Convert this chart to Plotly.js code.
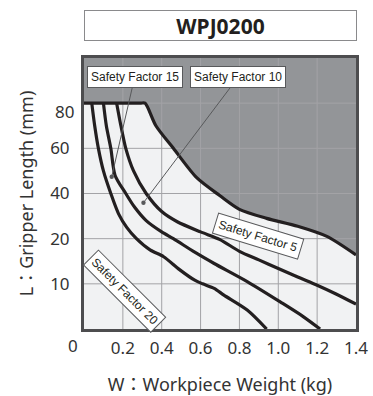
<!DOCTYPE html>
<html><head><meta charset="utf-8">
<script src="https://cdn.plot.ly/plotly-3.0.1.min.js"></script>
<style>html,body{margin:0;padding:0;background:#fff;}#chart{width:373px;height:396px;}</style>
</head><body><div id="chart"></div>
<script>
// Chart title
const chartTitle = 'WPJ0200';
// Gripper-length axis: breakpoints (mm) that sit evenly spaced on the chart
const yScaleBreaks = [0, 10, 20, 40, 60, 80, 100];
const yTickValues = [10, 20, 40, 60, 80];
const yTickLabels = ['10', '20', '40', '60', '80'];
const xTickValues = [0, 0.2, 0.4, 0.6, 0.8, 1.0, 1.2, 1.4];
const xTickLabels = ['0', '0.2', '0.4', '0.6', '0.8', '1.0', '1.2', '1.4'];

// Safety factor curves: workpiece weight (kg) vs gripper length (mm)
const sf20Weight = [0.04, 0.055, 0.074, 0.10, 0.138, 0.178, 0.22, 0.27, 0.34, 0.41, 0.49, 0.57, 0.61, 0.67, 0.72, 0.84, 0.94];
const sf20Length = [80, 70, 60, 50, 40, 31, 25, 20, 17.5, 16, 13.2, 10.8, 10, 9, 7.5, 4.2, 0];

const sf15Weight = [0.10, 0.115, 0.138, 0.16, 0.215, 0.26, 0.32, 0.40, 0.46, 0.57, 0.67, 0.84, 1.01, 1.13, 1.215];
const sf15Length = [80, 70, 60, 48, 40, 34, 28, 23, 20, 17, 14.5, 10.5, 6, 2.7, 0];

const sf10Weight = [0.168, 0.19, 0.215, 0.255, 0.32, 0.40, 0.48, 0.60, 0.70, 0.80, 0.90, 1.00, 1.10, 1.20, 1.30, 1.40];
const sf10Length = [80, 70, 60, 50, 40, 32, 27.5, 23, 19.8, 17.2, 15.3, 13.4, 11.5, 9.7, 7.7, 5.5];

// Safety factor 5 = usable limit (grey area beyond)
const sf5Weight = [0, 0.15, 0.29, 0.314, 0.37, 0.46, 0.58, 0.70, 0.80, 0.94, 1.10, 1.25, 1.40];
const sf5Length = [80, 80, 80, 80, 70, 60, 47, 39, 33, 29, 25.5, 21, 16.4];

const labelTexts = ['Safety Factor 15', 'Safety Factor 10', 'Safety Factor 5', 'Safety Factor 20'];

// piecewise scale: mm -> evenly spaced axis position
function toPos(v) {
  for (let i = 0; i < yScaleBreaks.length - 1; i++) {
    if (v <= yScaleBreaks[i + 1]) return i + (v - yScaleBreaks[i]) / (yScaleBreaks[i + 1] - yScaleBreaks[i]);
  }
  return yScaleBreaks.length - 1;
}
const P = a => a.map(toPos);
const yTop = yScaleBreaks.length - 1;

const lineCol = '#231f20';
const lineW = 3.2;
const smooth = 0.75;

// grid lines (drawn above the grey fill)
const gx = [], gy = [];
xTickValues.slice(1, -1).forEach(v => { gx.push(v, v, null); gy.push(0, yTop, null); });
yTickValues.forEach(v => { gx.push(0, 1.4, null); gy.push(toPos(v), toPos(v), null); });

const traces = [
  {x: [0, 1.4], y: [yTop, yTop], mode: 'lines', line: {width: 0}, hoverinfo: 'skip', showlegend: false},
  {x: sf5Weight, y: P(sf5Length), mode: 'lines', line: {width: 0, shape: 'spline', smoothing: smooth},
   fill: 'tonexty', fillcolor: '#939598', hoverinfo: 'skip', showlegend: false},
  {x: gx, y: gy, mode: 'lines', line: {color: '#a3a3a6', width: 1}, hoverinfo: 'skip', showlegend: false},
  {x: sf20Weight, y: P(sf20Length), mode: 'lines', line: {color: lineCol, width: lineW, shape: 'spline', smoothing: smooth}, showlegend: false},
  {x: sf15Weight, y: P(sf15Length), mode: 'lines', line: {color: lineCol, width: lineW, shape: 'spline', smoothing: smooth}, showlegend: false},
  {x: sf10Weight, y: P(sf10Length), mode: 'lines', line: {color: lineCol, width: lineW, shape: 'spline', smoothing: smooth}, showlegend: false},
  {x: sf5Weight, y: P(sf5Length), mode: 'lines', line: {color: lineCol, width: lineW, shape: 'spline', smoothing: smooth}, showlegend: false}
];

const tickFont = {family: 'Noto Sans, sans-serif', size: 17, color: '#333'};
const labelFont = {family: 'Liberation Sans Narrow, Liberation Sans, Arial, sans-serif', size: 12, color: '#231f20'};

const layout = {
  width: 373, height: 396,
  margin: {l: 84, r: 17, t: 58, b: 67, pad: 0},
  paper_bgcolor: '#ffffff',
  plot_bgcolor: '#f1f2f3',
  showlegend: false,
  xaxis: {
    range: [0, 1.4], tickvals: xTickValues.slice(1), ticktext: xTickLabels.slice(1),
    showgrid: false, zeroline: false, showline: true, mirror: true,
    linecolor: '#4d4d4f', linewidth: 3, ticks: '', ticklabelstandoff: 2,
    tickfont: tickFont, fixedrange: true,
    title: {text: 'W：Workpiece Weight (kg)', font: {family: 'Noto Sans, Noto Sans CJK JP, sans-serif', size: 18, color: '#333'}, standoff: 20}
  },
  yaxis: {
    range: [0, yTop], tickvals: P(yTickValues.slice(0, -1)), ticktext: yTickLabels.slice(0, -1),
    showgrid: false, zeroline: false, showline: true, mirror: true,
    linecolor: '#4d4d4f', linewidth: 3, ticks: '', ticklabelstandoff: 8,
    tickfont: tickFont, fixedrange: true,
    title: {text: 'L：Gripper Length (mm)', font: {family: 'Noto Sans, Noto Sans CJK JP, sans-serif', size: 18, color: '#333'}, standoff: 12}
  },
  annotations: [
    {xref: 'paper', yref: 'paper', x: 0.5, y: 1 + (58 - 25.5) / 271, xanchor: 'center', yanchor: 'middle',
     text: '<b>' + chartTitle + '</b>', showarrow: false, font: {family: 'Noto Sans, sans-serif', size: 21, color: '#231f20'},
     bgcolor: '#ffffff', bordercolor: '#8a8a8c', borderwidth: 1, borderpad: 0, width: 271, height: 29},
    {xref: 'x', yref: 'y', x: 0, y: toPos(yTickValues[4]), text: yTickLabels[4], showarrow: false,
     xanchor: 'right', yanchor: 'middle', xshift: -8, yshift: -8, font: tickFont},
    {xref: 'x', yref: 'y', x: xTickValues[0], y: 0, text: xTickLabels[0], showarrow: false,
     xanchor: 'center', yanchor: 'top', xshift: -11, yshift: -3, font: tickFont},
    {xref: 'x', yref: 'y', x: 0.1426, y: toPos(47.4), axref: 'x', ayref: 'y', ax: 0.261, ay: toPos(91.6),
     text: labelTexts[0], showarrow: true, arrowhead: 6, arrowsize: 1.1, arrowwidth: 1, arrowcolor: '#58595b',
     font: labelFont, bgcolor: '#ffffff', bordercolor: '#58595b', borderwidth: 1, borderpad: 3},
    {xref: 'x', yref: 'y', x: 0.306, y: toPos(35.9), axref: 'x', ayref: 'y', ax: 0.794, ay: toPos(91.6),
     text: labelTexts[1], showarrow: true, arrowhead: 6, arrowsize: 1.1, arrowwidth: 1, arrowcolor: '#58595b',
     font: labelFont, bgcolor: '#ffffff', bordercolor: '#58595b', borderwidth: 1, borderpad: 3},
    {xref: 'x', yref: 'y', x: 0.893, y: toPos(21), text: labelTexts[2], showarrow: false, textangle: 17,
     font: labelFont, bgcolor: '#ffffff', bordercolor: '#58595b', borderwidth: 1, borderpad: 3},
    {xref: 'x', yref: 'y', x: 0.209, y: toPos(8.5), text: labelTexts[3], showarrow: false, textangle: 45,
     font: labelFont, bgcolor: '#ffffff', bordercolor: '#58595b', borderwidth: 1, borderpad: 3}
  ]
};

Plotly.newPlot('chart', traces, layout, {displayModeBar: false, staticPlot: true});
</script>
</body></html>
